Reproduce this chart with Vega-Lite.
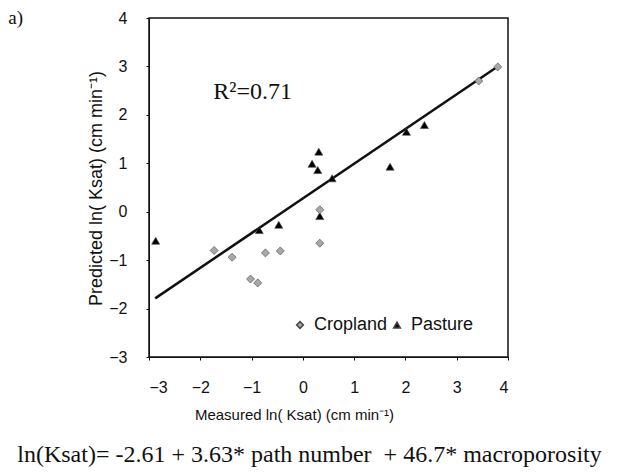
{
  "$schema": "https://vega.github.io/schema/vega-lite/v6.json",
  "width": 359,
  "height": 339,
  "autosize": {"type": "none"},
  "padding": {"left": 149, "top": 18, "right": 112, "bottom": 118},
  "background": "white",
  "config": {
    "view": {"stroke": "#111", "strokeWidth": 1.5},
    "axis": {"grid": false, "domainColor": "#111", "tickColor": "#111", "labelFont": "Liberation Sans", "titleFont": "Liberation Sans", "labelColor": "#111", "titleColor": "#111", "titleFontWeight": "normal"}
  },
  "datasets": {
    "pts": [
      {"mx": -2.87, "pr": -0.6, "type": "Pasture"},
      {"mx": -0.85, "pr": -0.38, "type": "Pasture"},
      {"mx": -0.47, "pr": -0.27, "type": "Pasture"},
      {"mx": 0.33, "pr": -0.09, "type": "Pasture"},
      {"mx": 0.31, "pr": 1.24, "type": "Pasture"},
      {"mx": 0.18, "pr": 0.99, "type": "Pasture"},
      {"mx": 0.29, "pr": 0.86, "type": "Pasture"},
      {"mx": 0.57, "pr": 0.69, "type": "Pasture"},
      {"mx": 1.7, "pr": 0.93, "type": "Pasture"},
      {"mx": 2.02, "pr": 1.65, "type": "Pasture"},
      {"mx": 2.37, "pr": 1.79, "type": "Pasture"},
      {"mx": 3.43, "pr": 2.7, "type": "Cropland"},
      {"mx": 3.8, "pr": 2.99, "type": "Cropland"},
      {"mx": 0.33, "pr": 0.04, "type": "Cropland"},
      {"mx": 0.33, "pr": -0.65, "type": "Cropland"},
      {"mx": -1.73, "pr": -0.8, "type": "Cropland"},
      {"mx": -1.38, "pr": -0.94, "type": "Cropland"},
      {"mx": -0.73, "pr": -0.85, "type": "Cropland"},
      {"mx": -0.44, "pr": -0.81, "type": "Cropland"},
      {"mx": -1.02, "pr": -1.39, "type": "Cropland"},
      {"mx": -0.88, "pr": -1.47, "type": "Cropland"}
    ],
    "fit": [
      {"mx": -2.88, "pr": -1.79},
      {"mx": 3.8, "pr": 3.0}
    ],
    "notes": [
      {"mx": -0.98, "pr": 2.47, "label": "R²=0.71", "kind": "r2"},
      {"mx": 0.13, "pr": -5.02, "label": "ln(Ksat)= -2.61 + 3.63* path number\u00a0 + 46.7* macroporosity", "kind": "cap"},
      {"mx": -5.6, "pr": 4.0, "label": "a)", "kind": "tag"}
    ]
  },
  "encoding": {
    "x": {"field": "mx", "type": "quantitative", "scale": {"domain": [-3, 4], "nice": false, "zero": false},
      "axis": {"values": [-3, -2, -1, 0, 1, 2, 3, 4], "title": "Measured ln( Ksat)  (cm min⁻¹)", "labelFontSize": 16, "titleFontSize": 15, "tickSize": 3, "labelPadding": 19, "titlePadding": 12, "titleX": 145}},
    "y": {"field": "pr", "type": "quantitative", "scale": {"domain": [-3, 4], "nice": false, "zero": false},
      "axis": {"values": [-3, -2, -1, 0, 1, 2, 3, 4], "title": "Predicted ln( Ksat)  (cm min⁻¹)", "labelFontSize": 16, "titleFontSize": 18, "tickSize": 3, "labelPadding": 19, "titlePadding": 3, "titleY": 170}}
  },
  "layer": [
    {
      "data": {"name": "fit"},
      "mark": {"type": "line", "color": "#111", "strokeWidth": 2.5},
      "encoding": {}
    },
    {
      "data": {"name": "pts"},
      "mark": {"type": "point", "filled": true, "opacity": 1, "size": 65, "stroke": "#444", "strokeWidth": 0.6},
      "encoding": {
        "shape": {"field": "type", "type": "nominal", "scale": {"domain": ["Cropland", "Pasture"], "range": ["diamond", "triangle-up"]}, "legend": {"title": null, "orient": "none", "legendX": 142, "legendY": 298, "direction": "horizontal", "labelFont": "Liberation Sans", "labelFontSize": 18, "labelColor": "#111", "symbolSize": 45, "columnPadding": 0, "labelOffset": 5}},
        "color": {"field": "type", "type": "nominal", "scale": {"domain": ["Cropland", "Pasture"], "range": ["#a8a8a8", "#000000"]}}
      }
    },
    {
      "data": {"name": "notes"},
      "transform": [{"filter": "datum.kind == 'r2'"}],
      "mark": {"type": "text", "font": "Liberation Serif", "fontSize": 24, "align": "center", "baseline": "middle", "color": "#111"},
      "encoding": {"text": {"field": "label"}}
    },
    {
      "data": {"name": "notes"},
      "transform": [{"filter": "datum.kind == 'cap'"}],
      "mark": {"type": "text", "font": "Liberation Serif", "fontSize": 24, "align": "center", "baseline": "middle", "color": "#111"},
      "encoding": {"text": {"field": "label"}}
    },
    {
      "data": {"name": "notes"},
      "transform": [{"filter": "datum.kind == 'tag'"}],
      "mark": {"type": "text", "font": "Liberation Serif", "fontSize": 19, "align": "center", "baseline": "middle", "color": "#111"},
      "encoding": {"text": {"field": "label"}}
    }
  ]
}
